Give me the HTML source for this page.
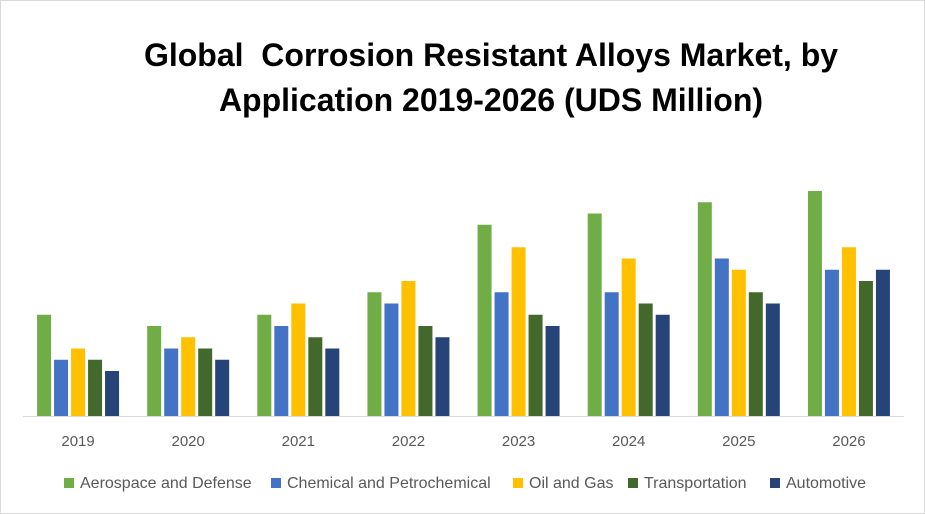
<!DOCTYPE html>
<html><head><meta charset="utf-8"><style>
html,body{margin:0;padding:0;background:#fff;}
#wrap{position:relative;width:923px;height:512px;border:1px solid #d9d9d9;overflow:hidden;font-family:"Liberation Sans",sans-serif;}
.title{position:absolute;left:0;width:980px;text-align:center;font-weight:bold;font-size:32px;color:#000;}
.leg{position:absolute;top:474px;font-size:16px;color:#595959;white-space:nowrap;}
.leg span.sw{display:inline-block;width:10px;height:10px;margin-right:6px;vertical-align:0px;}
</style></head><body>
<div id="wrap">
<div class="title" style="top:36px">Global&nbsp; Corrosion Resistant Alloys Market, by</div>
<div class="title" style="top:81px">Application 2019-2026 (UDS Million)</div>
<svg id="svg" width="923" height="512" style="position:absolute;left:0;top:0"></svg>
<div id="legend"></div>
</div>
<script>
const categories=["2019","2020","2021","2022","2023","2024","2025","2026"];
const seriesNames=["Aerospace and Defense","Chemical and Petrochemical","Oil and Gas","Transportation","Automotive"];
const aerospace=[9,8,9,11,17,18,19,20];
const chemical=[5,6,8,10,11,11,14,13];
const oilGas=[6,7,10,12,15,14,13,15];
const transportation=[5,6,7,8,9,10,11,12];
const automotive=[4,5,6,7,8,9,10,13];
const series=[aerospace,chemical,oilGas,transportation,automotive];
const colors=["#70ad47","#4472c4","#ffc000","#43682b","#264478"];
const NS="http://www.w3.org/2000/svg";
const svg=document.getElementById('svg');
const x0=22,x1=903,base=415,pxPerUnit=11.25;
const band=(x1-x0)/categories.length;
function xBand(i){return x0+band*i;}
function yScale(v){return base-v*pxPerUnit;}
const bw=14,gap=3;
categories.forEach((c,i)=>{
  const cx=xBand(i)+band/2;
  const start=cx-(5*bw+4*gap)/2;
  series.forEach((s,j)=>{
    const r=document.createElementNS(NS,'rect');
    r.setAttribute('x',start+j*(bw+gap));
    r.setAttribute('y',yScale(s[i]));
    r.setAttribute('width',bw);
    r.setAttribute('height',base-yScale(s[i]));
    r.setAttribute('fill',colors[j]);
    
    
    svg.appendChild(r);
  });
  const t=document.createElementNS(NS,'text');
  t.setAttribute('x',cx);t.setAttribute('y',445);
  t.setAttribute('text-anchor','middle');t.setAttribute('font-size','15');
  t.setAttribute('fill','#595959');t.setAttribute('font-family','Liberation Sans, sans-serif');
  t.textContent=c;
  
  
  svg.appendChild(t);
});
const ax=document.createElementNS(NS,'line');
ax.setAttribute('x1',x0);ax.setAttribute('x2',x1);ax.setAttribute('y1',base+0.5);ax.setAttribute('y2',base+0.5);
ax.setAttribute('stroke','#d9d9d9');


svg.appendChild(ax);
const legX=[63,270,512,627,769];
const leg=document.getElementById('legend');
seriesNames.forEach((n,j)=>{
  const d=document.createElement('div');
  d.className='leg';d.style.left=legX[j]+'px';
  d.innerHTML='<span class="sw" style="background:'+colors[j]+'"></span>'+n;
  
  
  leg.appendChild(d);
});
</script>
</body></html>
